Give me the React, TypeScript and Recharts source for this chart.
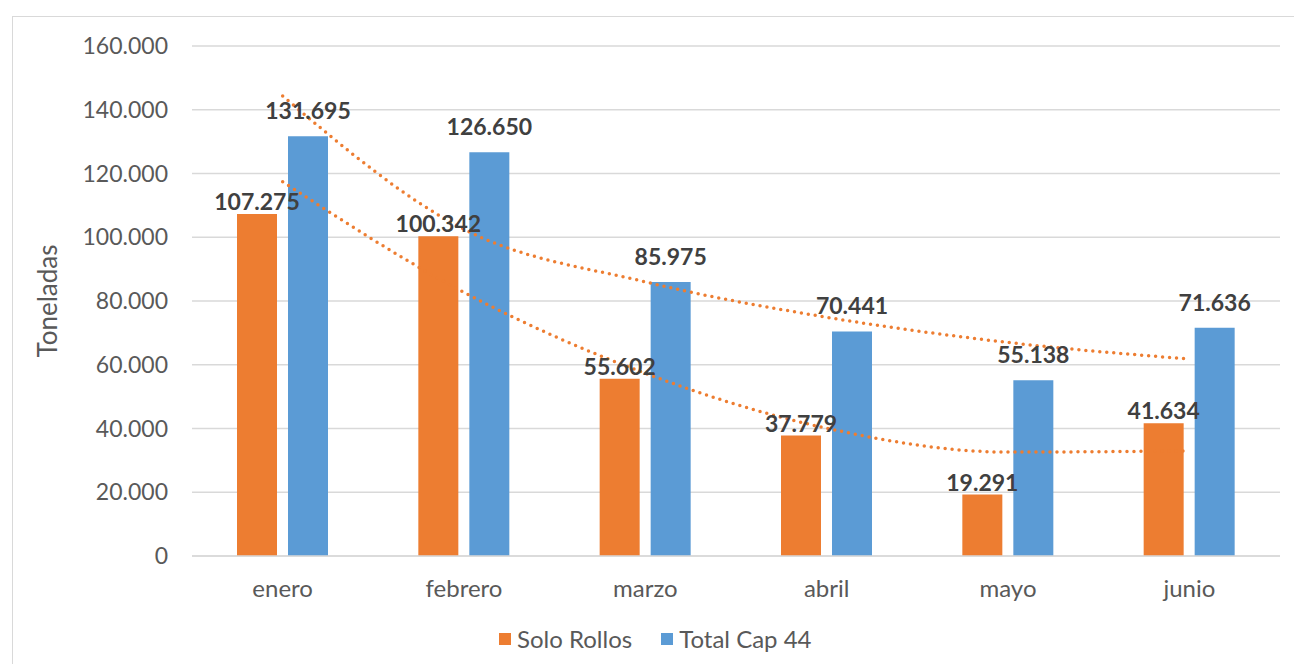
import React from 'react';
import { ComposedChart, Bar, Line, XAxis, YAxis, CartesianGrid, LabelList } from 'recharts';

const months = ['enero', 'febrero', 'marzo', 'abril', 'mayo', 'junio'];
const soloRollos = [107275, 100342, 55602, 37779, 19291, 41634];
const totalCap44 = [131695, 126650, 85975, 70441, 55138, 71636];
// trendlines at each month
const trendSolo = [117400, 82700, 57300, 40100, 32600, 33000];
const trendTotal = [144300, 102500, 86000, 74900, 67000, 61800];
const yTicks = [0, 20000, 40000, 60000, 80000, 100000, 120000, 140000, 160000];

const ORANGE = '#ED7D31';
const BLUE = '#5B9BD5';
const FONT = 'Lato, "DejaVu Sans", sans-serif';

const fmt = (v: number) => v.toString().replace(/\B(?=(\d{3})+(?!\d))/g, '.');

const data = months.map((m, i) => ({
  name: m,
  solo: soloRollos[i],
  total: totalCap44[i],
  tSolo: trendSolo[i],
  tTotal: trendTotal[i],
}));

const makeLabel = (lift: number) => (props: any) => {
  const { x, y, width, value } = props;
  return (
    <text
      x={Number(x) + Number(width) / 2}
      y={Number(y) - lift}
      textAnchor="middle"
      fill="#404040"
      fontSize={23}
      fontWeight="bold"
      fontFamily={FONT}
    >
      {fmt(Number(value))}
    </text>
  );
};

export default function App() {
  return (
    <div style={{ position: 'fixed', left: 0, top: 0, width: 1294, height: 664, background: '#fff', overflow: 'hidden' }}>
      <div
        style={{
          position: 'absolute',
          left: 12,
          top: 16,
          width: 1400,
          height: 800,
          border: '1.5px solid #D9D9D9',
        }}
      />
      <div style={{ position: 'absolute', left: 0, top: 0 }}>
        <ComposedChart
          width={1294}
          height={664}
          data={data}
          margin={{ top: 46, right: 14, bottom: 78, left: 43 }}
          barGap={11}
        >
          <CartesianGrid vertical={false} stroke="#D9D9D9" strokeWidth={1.5} />
          <XAxis
            dataKey="name"
            height={30}
            axisLine={{ stroke: '#D9D9D9', strokeWidth: 1.5 }}
            tickLine={false}
            tickSize={0}
            tickMargin={24}
            tick={{ fill: '#595959', fontSize: 24, fontFamily: FONT }}
          />
          <YAxis
            width={149}
            domain={[0, 160000]}
            ticks={yTicks}
            interval={0}
            axisLine={false}
            tickLine={false}
            tickSize={0}
            tickMargin={24}
            tickFormatter={(v) => fmt(Number(v))}
            tick={{ fill: '#595959', fontSize: 23, fontFamily: FONT }}
            label={{
              value: 'Toneladas',
              angle: -90,
              position: 'insideLeft',
              offset: 5,
              style: { textAnchor: 'middle', fill: '#595959', fontSize: 26, fontFamily: FONT },
            }}
          />
          <Bar dataKey="solo" name="Solo Rollos" fill={ORANGE} barSize={40} isAnimationActive={false}>
            <LabelList dataKey="solo" content={makeLabel(4)} />
          </Bar>
          <Bar dataKey="total" name="Total Cap 44" fill={BLUE} barSize={40} isAnimationActive={false}>
            <LabelList dataKey="total" content={makeLabel(17)} />
          </Bar>
          <Line
            type="monotone"
            dataKey="tTotal"
            stroke={ORANGE}
            strokeWidth={3.5}
            strokeDasharray="0 7"
            strokeLinecap="round"
            dot={false}
            activeDot={false}
            legendType="none"
            isAnimationActive={false}
          />
          <Line
            type="monotone"
            dataKey="tSolo"
            stroke={ORANGE}
            strokeWidth={3.5}
            strokeDasharray="0 7"
            strokeLinecap="round"
            dot={false}
            activeDot={false}
            legendType="none"
            isAnimationActive={false}
          />
        </ComposedChart>
      </div>
      <div
        style={{
          position: 'absolute',
          left: 499,
          top: 624,
          display: 'flex',
          alignItems: 'center',
          fontFamily: FONT,
          fontSize: 24,
          color: '#595959',
        }}
      >
        <span style={{ width: 12, height: 12, background: ORANGE, marginRight: 6, display: 'inline-block' }} />
        <span style={{ marginRight: 29 }}>Solo Rollos</span>
        <span style={{ width: 12, height: 12, background: BLUE, marginRight: 6, display: 'inline-block' }} />
        <span>Total Cap 44</span>
      </div>
    </div>
  );
}
